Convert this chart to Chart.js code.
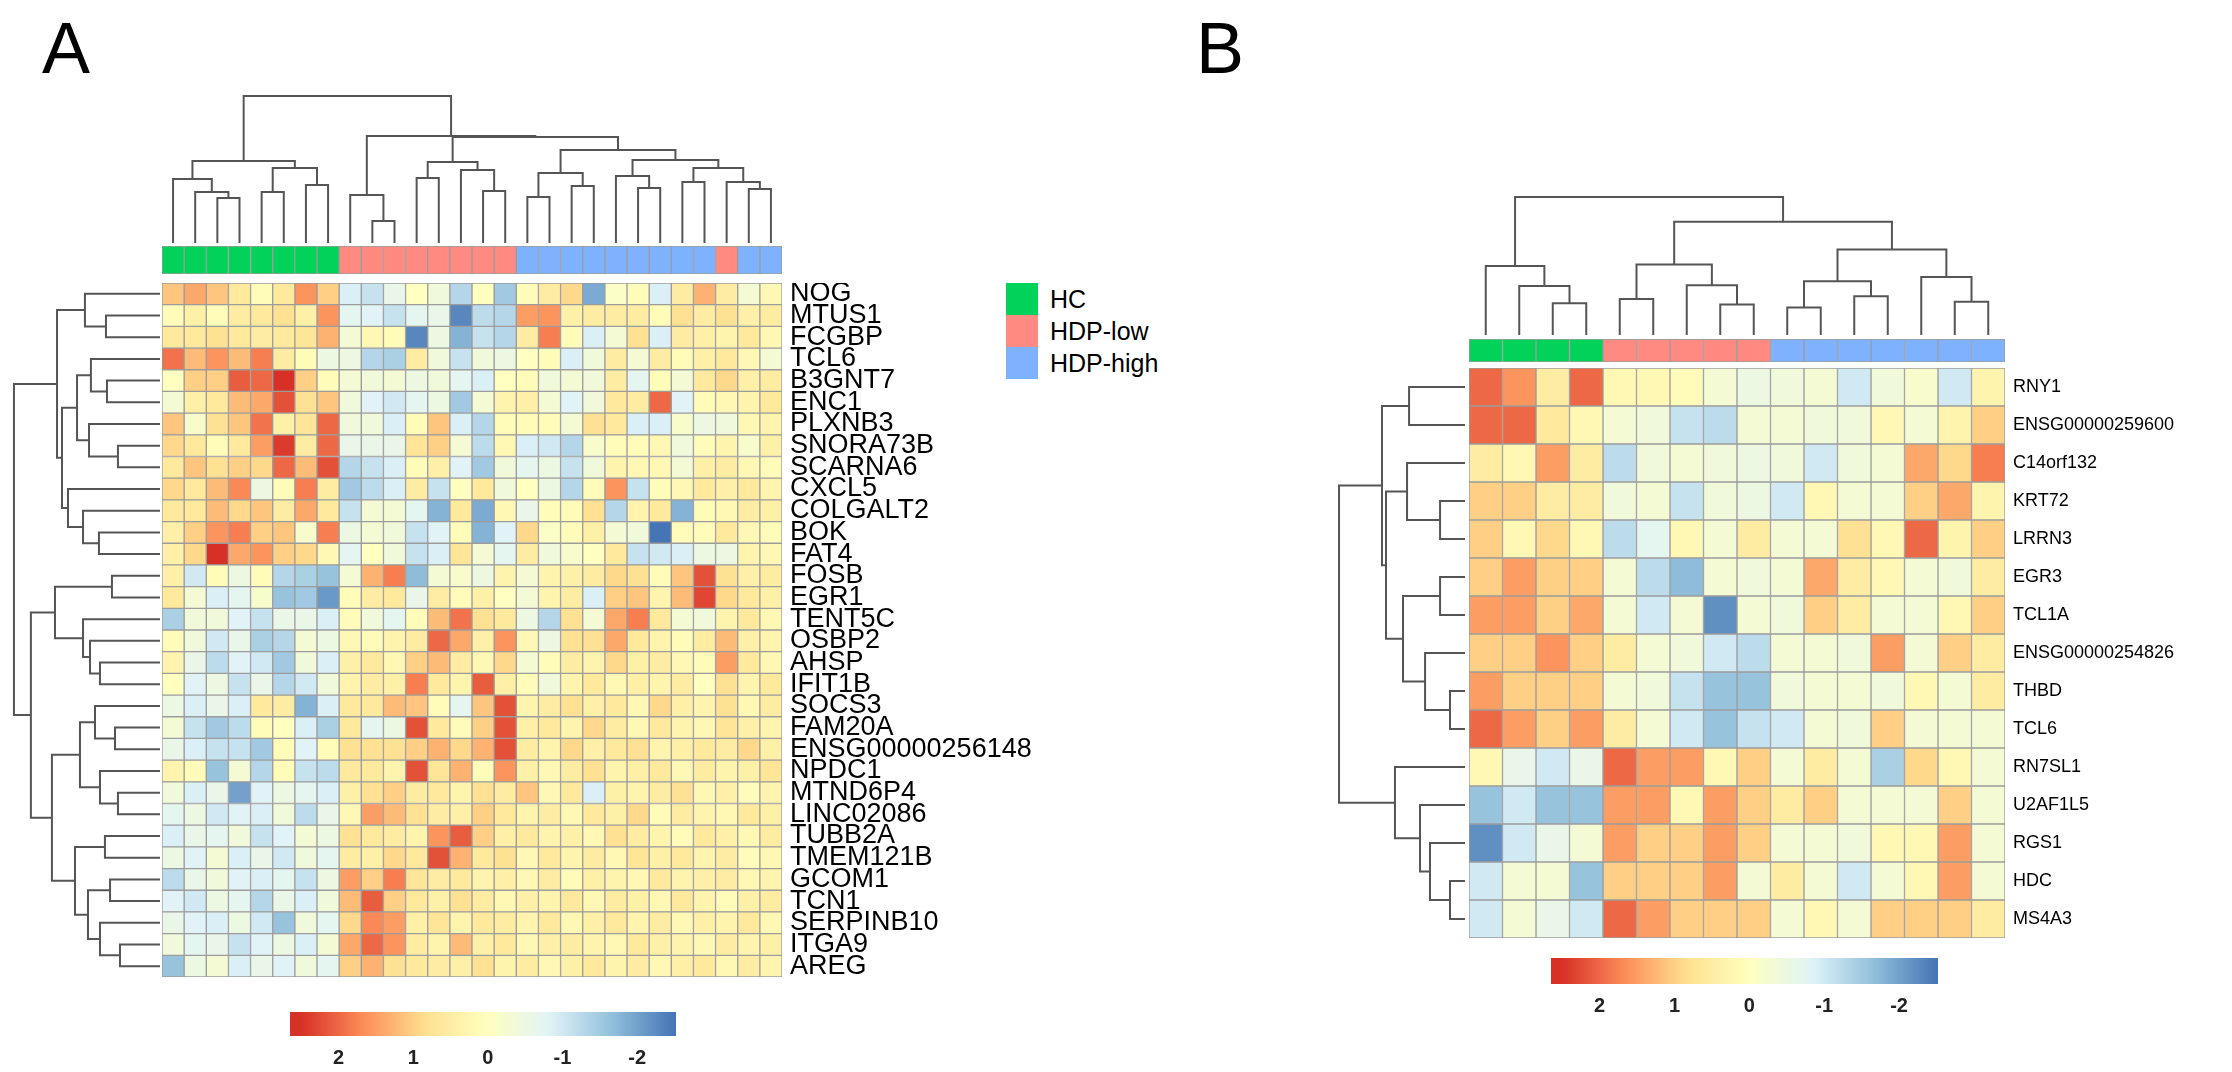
<!DOCTYPE html>
<html>
<head>
<meta charset="utf-8">
<script src="https://cdn.jsdelivr.net/npm/chart.js@4.4.0/dist/chart.umd.min.js"></script>
<style>
  body { margin:0; background:#fff; width:2232px; height:1072px; position:relative; overflow:hidden;
         font-family:"Liberation Sans", Arial, sans-serif; }
  canvas { position:absolute; display:block; }
  .letter { position:absolute; font-size:72px; line-height:72px; color:#000; }
  .lg { position:absolute; height:32px; line-height:32px; font-size:25px; color:#000; white-space:nowrap; }
  .lg span { position:absolute; left:-44px; top:0; width:32px; height:32px; }
</style>
</head>
<body>
<div class="letter" style="left:42px;top:12px">A</div>
<div class="letter" style="left:1196px;top:12px">B</div>
<div id="legend"></div>
<script>
// ---- data -------------------------------------------------------------
var groupNames = ['HC', 'HDP-low', 'HDP-high'];

var genesA = ['NOG','MTUS1','FCGBP','TCL6','B3GNT7','ENC1','PLXNB3','SNORA73B','SCARNA6','CXCL5',
  'COLGALT2','BOK','FAT4','FOSB','EGR1','TENT5C','OSBP2','AHSP','IFIT1B','SOCS3','FAM20A',
  'ENSG00000256148','NPDC1','MTND6P4','LINC02086','TUBB2A','TMEM121B','GCOM1','TCN1',
  'SERPINB10','ITGA9','AREG'];

var samplesA = ['HC','HC','HC','HC','HC','HC','HC','HC',
  'HDP-low','HDP-low','HDP-low','HDP-low','HDP-low','HDP-low','HDP-low','HDP-low',
  'HDP-high','HDP-high','HDP-high','HDP-high','HDP-high','HDP-high','HDP-high','HDP-high','HDP-high',
  'HDP-low','HDP-high','HDP-high'];

var valuesA = [
  [1.1,1.4,1.1,0.6,0.1,0.6,1.6,1.0,-0.9,-1.1,-0.6,0.0,-0.4,-1.3,0.0,-1.5,0.1,0.5,0.9,-1.9,-0.1,0.1,-0.9,0.5,1.3,0.5,-0.3,0.2],
  [0.1,0.4,0.1,0.5,0.6,0.8,0.4,1.6,-0.7,-0.8,-1.1,-0.7,-0.6,-2.3,-1.2,-1.3,1.5,1.6,0.4,0.5,0.5,0.5,0.1,0.8,0.5,0.8,0.4,0.5],
  [0.6,0.6,0.8,0.6,0.5,0.6,0.7,1.3,-0.3,0.2,0.1,-2.3,-0.5,-1.8,-1.1,-1.3,0.5,1.8,0.1,-0.9,-0.3,0.8,-0.9,0.5,0.4,0.3,0.6,0.2],
  [1.9,1.2,1.6,1.2,1.8,0.5,0.1,-0.5,-0.5,-1.3,-1.4,0.5,-0.4,-1.1,-0.4,-0.5,0.0,0.1,-0.9,-0.4,0.5,-0.3,0.5,0.1,0.4,0.6,0.2,-0.3],
  [0.0,1.0,1.0,2.1,2.0,2.5,1.0,0.1,-0.3,-0.4,-0.3,-0.5,-0.4,-0.7,-0.9,0.0,0.1,-0.4,-0.3,-0.4,0.5,-0.7,0.1,-0.3,0.6,0.9,0.4,0.5],
  [-0.3,0.4,0.6,1.2,1.4,2.2,0.8,1.1,-0.4,-0.8,-1.0,-0.7,-0.5,-1.5,-0.3,0.3,0.4,-0.3,-0.8,-0.4,0.6,0.5,2.0,-0.8,0.1,0.2,0.3,0.6],
  [1.1,-0.2,0.8,1.1,1.9,0.4,0.7,2.0,-0.4,-0.4,-0.9,0.1,1.1,-0.9,-1.3,0.1,0.1,0.1,-0.3,0.8,0.6,-0.9,-0.9,-0.2,-0.5,-0.4,0.2,0.3],
  [0.9,0.6,0.1,0.6,1.5,2.4,0.5,2.0,-0.6,-0.6,-0.6,0.7,1.0,-0.3,-1.2,0.2,-0.9,-1.0,-1.3,-0.2,0.1,0.1,0.2,-0.4,0.1,0.3,-0.2,0.4],
  [0.6,1.1,0.8,1.0,0.9,2.0,1.2,2.2,-1.3,-1.1,-0.9,0.1,0.4,-0.8,-1.5,-0.4,-0.7,-0.5,-1.1,-0.4,0.3,0.2,0.2,-0.3,0.4,0.5,0.2,0.1],
  [0.9,0.6,1.2,1.7,-0.5,0.1,1.8,0.5,-1.5,-1.2,-0.9,0.5,-1.1,0.0,0.6,-0.4,0.0,-0.5,-1.3,0.1,1.6,-1.1,0.1,0.2,0.6,0.4,0.6,0.3],
  [0.6,0.6,1.2,0.9,1.1,0.5,1.4,0.6,-1.1,-0.3,-0.3,-0.7,-1.8,0.6,-1.9,0.2,-0.6,0.1,0.1,0.8,-1.3,0.3,0.6,-1.8,0.1,0.2,0.5,0.4],
  [0.4,1.0,1.6,1.8,1.0,1.1,-0.2,1.8,-0.5,-0.3,-0.4,-1.1,-0.8,0.1,-1.8,-0.8,0.9,-0.1,0.1,0.4,-0.3,-0.4,-2.5,0.1,0.1,0.6,0.2,0.1],
  [0.4,0.9,2.5,1.4,1.6,1.0,0.9,0.2,-0.7,0.0,-0.4,-1.1,-0.9,0.7,-0.3,-0.7,0.5,-0.4,-0.2,0.0,0.6,-1.1,-1.0,-0.9,-0.5,-0.5,0.3,0.2],
  [0.4,-1.0,0.1,-0.5,0.1,-1.3,-1.4,-1.6,-0.3,1.3,1.8,-1.7,-0.3,-0.2,-0.5,0.3,-0.3,0.3,0.4,0.5,0.9,0.8,0.1,1.1,2.2,0.8,0.4,0.5],
  [0.6,-0.3,-0.9,-0.7,-0.2,-1.6,-1.5,-2.1,0.1,0.5,0.6,-0.6,0.5,0.1,0.4,0.0,-0.3,0.3,0.5,-0.9,1.0,1.1,0.3,1.2,2.3,0.9,0.6,0.4],
  [-1.4,-0.4,-0.4,-0.8,-1.1,-0.6,-0.6,-0.9,0.1,-0.4,-0.7,0.1,1.2,1.9,0.8,0.6,-0.5,-1.3,0.8,-0.3,1.4,1.8,0.6,-0.3,-0.4,0.3,0.6,0.2],
  [0.1,-0.4,-1.0,-0.6,-1.4,-1.3,-0.3,-0.5,0.2,0.1,0.3,0.5,2.0,1.4,0.4,1.6,0.2,-0.5,0.8,0.8,1.4,0.6,0.3,0.1,0.5,1.2,0.4,0.3],
  [0.3,-0.6,-1.2,-0.8,-1.0,-1.5,-0.4,-0.9,0.4,0.6,0.2,1.0,1.2,0.5,0.2,0.9,-0.3,0.1,0.5,0.3,0.9,0.4,0.5,0.2,0.1,1.5,0.6,0.2],
  [0.0,-0.8,-0.5,-1.1,-0.6,-1.3,-1.0,-0.4,0.3,0.5,0.4,1.8,0.6,0.3,2.1,0.4,0.1,-0.4,0.3,0.6,0.2,0.4,0.3,0.5,0.0,0.8,0.3,0.6],
  [-0.5,-0.9,-0.6,-0.9,0.6,0.5,-1.8,-0.9,0.6,0.6,1.2,1.1,0.1,-0.7,1.1,2.2,0.3,0.5,0.8,0.4,0.6,0.2,0.9,0.4,0.3,0.8,0.2,0.5],
  [-0.3,-1.1,-1.5,-1.2,0.1,0.0,-0.9,-1.4,0.6,-0.7,-0.5,2.2,0.6,0.1,1.0,2.2,0.4,0.6,0.3,0.9,0.5,0.2,0.6,0.3,0.2,0.7,0.4,0.3],
  [-0.6,-0.9,-1.1,-1.1,-1.5,0.1,-0.8,0.1,0.8,0.8,0.8,1.0,1.3,0.9,1.3,2.2,0.5,0.3,0.9,0.4,0.6,0.8,0.3,0.4,0.6,0.5,0.9,0.4],
  [0.3,0.1,-1.6,-0.3,-1.3,0.1,-1.1,-1.2,0.6,0.6,0.3,2.2,0.7,1.3,0.1,1.6,0.4,0.2,0.5,0.8,0.3,0.4,0.6,0.2,0.5,0.3,0.4,0.7],
  [-0.4,-0.9,-0.6,-2.0,-0.8,-0.5,-0.7,-0.9,0.4,0.8,1.0,0.5,0.6,0.3,0.8,0.5,1.1,0.2,0.6,-0.9,0.4,0.3,0.5,0.8,0.2,0.4,0.1,0.3],
  [-0.7,-0.5,-1.0,-0.8,-0.9,-0.4,-1.2,-0.6,0.2,1.5,1.2,0.8,0.5,0.4,1.0,0.6,0.3,0.5,0.2,0.6,0.4,0.9,0.1,0.5,0.3,0.2,0.6,0.4],
  [-0.9,-0.6,-0.7,-0.4,-1.1,-0.8,-0.3,-0.5,0.8,0.6,0.5,0.3,1.6,2.1,1.0,0.4,0.6,0.3,0.4,0.2,0.8,0.5,0.3,0.1,0.6,0.4,0.2,0.5],
  [-0.5,-0.8,-0.3,-0.9,-0.6,-1.0,-0.4,-0.7,0.5,0.4,0.9,0.6,2.2,1.3,0.6,0.8,0.2,0.6,0.3,0.5,0.2,0.7,0.4,0.6,0.3,0.5,0.1,0.2],
  [-1.2,-0.6,-0.4,-0.8,-0.9,-0.7,-1.1,-0.5,1.5,1.0,1.8,0.7,0.5,0.6,0.3,0.4,0.2,0.5,0.1,0.4,0.3,0.2,0.6,0.3,0.4,0.5,0.2,0.3],
  [-0.8,-1.0,-0.5,-0.7,-1.3,-0.6,-0.9,-0.4,1.2,2.1,1.0,0.6,0.4,0.8,0.5,0.2,0.4,0.3,0.6,0.2,0.5,0.4,0.2,0.6,0.3,0.1,0.4,0.5],
  [-0.6,-0.8,-0.9,-0.5,-1.0,-1.6,-0.4,-0.7,0.9,1.7,1.5,0.4,0.7,0.3,0.6,0.5,0.3,0.6,0.2,0.4,0.6,0.3,0.5,0.2,0.4,0.3,0.6,0.2],
  [-0.4,-0.7,-0.6,-1.1,-0.8,-0.5,-0.9,-0.3,1.4,2.0,1.6,0.5,0.3,1.2,0.4,0.6,0.2,0.4,0.5,0.3,0.2,0.6,0.4,0.3,0.2,0.5,0.3,0.4],
  [-1.6,-0.5,-0.3,-0.9,-0.6,-0.8,-0.4,-0.7,1.0,1.3,0.8,0.6,0.5,0.4,0.8,0.3,0.5,0.2,0.4,0.6,0.3,0.5,0.2,0.4,0.6,0.2,0.5,0.3]
];

// trees: [height, left, right], leaves are column / row indexes
var colTreeA = [10.0,
  [5.58, [4.35, 0, [3.47, 1, [3.06, 2, 3]]], [5.10, [3.47, 4, 5], [3.95, 6, 7]]],
  [7.28, [3.27, 8, [1.50, 9, 10]],
    [7.21, [5.51, [4.42, 11, 12], [4.97, 13, [3.54, 14, 15]]],
      [6.33, [4.76, [3.13, 16, 17], [3.88, 18, 19]],
        [5.65, [4.56, 20, [3.74, 21, 22]], [5.10, [4.15, 23, 24], [4.15, 25, [3.67, 26, 27]]]]]]]];

var rowTreeA = [10.0,
  [7.05, [5.14, 0, [3.70, 1, 2]],
    [6.71, [5.68, [4.73, 3, [3.63, 4, 5]], [4.86, 6, [2.88, 7, 8]]],
      [6.30, 9, [5.27, 10, [4.18, 11, 12]]]]],
  [8.84, [7.19, [3.29, 13, 14], [5.27, 15, [4.79, 16, [4.11, 17, 18]]]],
    [7.40, [5.48, [4.45, 19, [3.08, 20, 21]], [4.11, 22, [2.88, 23, 24]]],
      [5.82, [3.77, 25, 26], [4.93, [3.42, 27, 28], [4.11, 29, [2.74, 30, 31]]]]]]];

var genesB = ['RNY1','ENSG00000259600','C14orf132','KRT72','LRRN3','EGR3','TCL1A','ENSG00000254826',
  'THBD','TCL6','RN7SL1','U2AF1L5','RGS1','HDC','MS4A3'];

var samplesB = ['HC','HC','HC','HC','HDP-low','HDP-low','HDP-low','HDP-low','HDP-low',
  'HDP-high','HDP-high','HDP-high','HDP-high','HDP-high','HDP-high','HDP-high'];

var valuesB = [
  [2.0,1.6,0.5,2.0,0.2,0.2,0.1,-0.3,-0.5,-0.4,-0.3,-1.0,-0.4,-0.2,-1.0,0.3],
  [2.0,2.0,0.6,0.2,-0.3,-0.4,-1.1,-1.2,-0.3,-0.3,-0.4,-0.4,0.2,-0.3,0.3,1.0],
  [0.5,0.2,1.5,0.5,-1.2,-0.4,-0.3,-0.4,-0.5,-0.4,-1.0,-0.4,-0.3,1.4,0.9,1.8],
  [1.0,1.0,0.5,0.5,-0.4,-0.3,-1.1,-0.4,-0.5,-1.0,0.2,-0.3,-0.3,1.0,1.4,0.3],
  [1.0,0.2,0.9,0.2,-1.2,-0.7,0.2,-0.3,0.5,-0.3,-0.3,0.8,0.2,2.0,0.3,1.0],
  [1.0,1.5,1.0,1.0,-0.3,-1.2,-1.7,-0.3,-0.4,-0.3,1.4,0.5,0.2,-0.3,-0.4,0.5],
  [1.5,1.5,1.0,1.4,-0.3,-1.0,-0.3,-2.2,-0.3,-0.4,1.0,0.5,-0.3,-0.3,0.2,1.0],
  [1.0,1.0,1.6,1.0,0.5,-0.3,-0.4,-1.0,-1.2,-0.3,-0.3,-0.4,1.5,-0.3,1.0,0.5],
  [1.5,1.0,1.0,1.0,-0.3,-0.4,-1.1,-1.6,-1.6,-0.4,-0.3,-0.3,-0.4,0.2,-0.3,0.5],
  [2.0,1.5,1.0,1.5,0.5,-0.3,-1.0,-1.6,-1.1,-1.0,-0.3,-0.4,1.0,-0.3,-0.3,-0.3],
  [0.2,-0.6,-1.0,-0.6,2.0,1.5,1.5,0.2,1.0,-0.3,0.5,-0.3,-1.4,0.9,0.2,-0.3],
  [-1.6,-1.0,-1.6,-1.6,1.5,1.5,0.2,1.5,1.0,0.5,1.0,-0.3,-0.3,-0.3,1.0,-0.3],
  [-2.2,-1.0,-0.6,-0.3,1.5,1.0,1.0,1.5,1.0,-0.3,-0.3,-0.4,0.2,0.2,1.5,-0.3],
  [-1.0,-0.3,-0.3,-1.6,1.0,1.0,1.0,1.5,-0.3,0.5,-0.3,-1.0,-0.3,0.2,1.5,-0.3],
  [-1.0,-0.3,-0.6,-1.0,2.0,1.5,1.0,1.0,1.0,-0.3,0.2,-0.3,1.0,1.0,1.0,0.5]
];

var colTreeB = [10.0,
  [5.0, 0, [3.55, 1, [2.3, 2, 3]]],
  [8.2, [5.1, [2.6, 4, 5], [3.6, 6, [2.2, 7, 8]]],
    [6.2, [3.9, [2.0, 9, 10], [2.8, 11, 12]], [4.2, 13, [2.4, 14, 15]]]]];

var rowTreeB = [10.0,
  [6.59, [4.44, 0, 1],
    [6.27, [4.60, 2, [1.98, 3, 4]], [4.92, [1.98, 5, 6], [3.17, 7, [1.19, 8, 9]]]]],
  [5.56, 10, [3.57, 11, [2.78, 12, [1.19, 13, 14]]]]];

var legendTicks = [2, 1, 0, -1, -2];
var legendRange = [-2.52, 2.65];
var colorLimit = 2.5;

// ---- style ------------------------------------------------------------
var groupColors = { 'HC': '#00D25A', 'HDP-low': '#FF8A82', 'HDP-high': '#7EB2FF' };
var ramp = ['#4575B4','#91BFDB','#E0F3F8','#FFFFBF','#FEE090','#FC8D59','#D73027'];
var cellBorder = '#9c9c9c';
var treeColor = '#555555';

Chart.defaults.font.family = "'Liberation Sans', Arial, sans-serif";
Chart.defaults.color = '#000';

function hex(c) { return [1, 3, 5].map(function(i) { return parseInt(c.substr(i, 2), 16); }); }

function heatColor(v) {
  var t = Math.max(0, Math.min(1, (v + colorLimit) / (2 * colorLimit))) * (ramp.length - 1);
  var i = Math.min(ramp.length - 2, Math.floor(t));
  var f = t - i;
  var a = hex(ramp[i]), b = hex(ramp[i + 1]);
  return 'rgb(' + a.map(function(x, k) { return Math.round(x + (b[k] - x) * f); }).join(',') + ')';
}

function canvasAt(left, top, w, h) {
  var c = document.createElement('canvas');
  c.width = w; c.height = h;
  c.style.left = left + 'px'; c.style.top = top + 'px';
  c.style.width = w + 'px'; c.style.height = h + 'px';
  document.body.appendChild(c);
  return c;
}

function baseOptions() {
  return { responsive: false, animation: false, events: [], devicePixelRatio: 1,
    layout: { padding: 0 }, plugins: { legend: { display: false }, tooltip: { enabled: false } } };
}

// walk a tree and collect U-shaped links [pos1, h1, pos2, h2, h]
function walk(node, links) {
  if (typeof node === 'number') return { pos: node + 0.5, h: 0 };
  var l = walk(node[1], links), r = walk(node[2], links);
  links.push([l.pos, l.h, r.pos, r.h, node[0]]);
  return { pos: (l.pos + r.pos) / 2, h: node[0] };
}

function dendrogram(canvas, tree, nLeaves, hMax, onTop) {
  var links = [];
  walk(tree, links);
  var datasets = links.map(function(k) {
    var pts = [[k[0], k[1]], [k[0], k[4]], [k[2], k[4]], [k[2], k[3]]];
    return {
      data: pts.map(function(p) { return onTop ? { x: p[0], y: p[1] } : { x: p[1], y: p[0] }; }),
      showLine: true, borderColor: treeColor, borderWidth: 2, pointRadius: 0, clip: false,
      borderJoinStyle: 'miter'
    };
  });
  var pos = { type: 'linear', min: 0, max: nLeaves, display: false };
  var hgt = { type: 'linear', min: 0, max: hMax, display: false };
  var opts = baseOptions();
  if (onTop) { opts.scales = { x: pos, y: hgt }; }
  else {
    hgt.reverse = true; pos.reverse = true;
    opts.scales = { x: hgt, y: pos };
  }
  new Chart(canvas, { type: 'scatter', data: { datasets: datasets }, options: opts });
}

function heatmap(canvas, genes, values, fontSize, labelWidth) {
  var nCols = values[0].length;
  var datasets = [];
  for (var j = 0; j < nCols; j++) {
    datasets.push({
      data: genes.map(function() { return [j, j + 1]; }),
      backgroundColor: values.map(function(row) { return heatColor(row[j]); }),
      borderColor: cellBorder, borderWidth: 1, borderSkipped: false,
      grouped: false, barPercentage: 1, categoryPercentage: 1
    });
  }
  var opts = baseOptions();
  opts.indexAxis = 'y';
  opts.scales = {
    x: { type: 'linear', min: 0, max: nCols, display: false },
    y: { position: 'right', grid: { display: false, drawTicks: false }, border: { display: false },
      ticks: { autoSkip: false, padding: 8, font: { size: fontSize }, color: '#000' },
      afterFit: function(s) { s.width = labelWidth; s.paddingTop = 0; s.paddingBottom = 0; } }
  };
  new Chart(canvas, { type: 'bar', data: { labels: genes, datasets: datasets }, options: opts });
}

function annotation(canvas, samples) {
  var datasets = samples.map(function(g, j) {
    return { data: [[j, j + 1]], backgroundColor: groupColors[g], borderColor: cellBorder,
      borderWidth: 1, borderSkipped: false, grouped: false, barPercentage: 1, categoryPercentage: 1 };
  });
  var opts = baseOptions();
  opts.indexAxis = 'y';
  opts.scales = { x: { type: 'linear', min: 0, max: samples.length, display: false }, y: { display: false } };
  new Chart(canvas, { type: 'bar', data: { labels: [''], datasets: datasets }, options: opts });
}

function colorbar(canvas, axisHeight) {
  var opts = baseOptions();
  opts.indexAxis = 'y';
  opts.scales = {
    y: { display: false },
    x: { type: 'linear', reverse: true, min: legendRange[0], max: legendRange[1],
      grid: { display: false, drawTicks: false }, border: { display: false },
      ticks: { padding: 10, font: { size: 20, weight: 'bold' }, color: '#222' },
      afterBuildTicks: function(s) { s.ticks = legendTicks.map(function(v) { return { value: v }; }); },
      afterFit: function(s) { s.height = axisHeight; s.paddingLeft = 0; s.paddingRight = 0; } }
  };
  new Chart(canvas, {
    type: 'bar',
    data: { labels: [''], datasets: [{
      data: [[legendRange[1], legendRange[0]]], borderWidth: 0, barPercentage: 1, categoryPercentage: 1,
      backgroundColor: function(ctx) {
        var chart = ctx.chart, area = chart.chartArea;
        if (!area) return '#fff';
        var xs = chart.scales.x;
        var g = chart.ctx.createLinearGradient(area.left, 0, area.right, 0);
        for (var i = 0; i <= 50; i++) {
          var v = xs.min + (xs.max - xs.min) * i / 50;
          var o = (xs.getPixelForValue(v) - area.left) / (area.right - area.left);
          g.addColorStop(Math.max(0, Math.min(1, o)), heatColor(v));
        }
        return g;
      } }] },
    options: opts
  });
}

// ---- panel A ----
dendrogram(canvasAt(162, 90, 620, 153), colTreeA, samplesA.length, 10.41, true);
annotation(canvasAt(162, 246, 620, 28), samplesA);
heatmap(canvasAt(162, 283, 890, 694), genesA, valuesA, 27, 270);
dendrogram(canvasAt(10, 283, 150, 694), rowTreeA, genesA.length, 10.27, false);
colorbar(canvasAt(290, 1012, 386, 58), 34);

// ---- panel B ----
dendrogram(canvasAt(1469, 190, 536, 145), colTreeB, samplesB.length, 10.5, true);
annotation(canvasAt(1469, 339, 536, 23), samplesB);
heatmap(canvasAt(1469, 368, 756, 570), genesB, valuesB, 18, 220);
dendrogram(canvasAt(1335, 368, 130, 570), rowTreeB, genesB.length, 10.32, false);
colorbar(canvasAt(1551, 958, 387, 60), 34);

// ---- legend ----
var lg = document.getElementById('legend');
groupNames.forEach(function(g, i) {
  var d = document.createElement('div');
  d.className = 'lg';
  d.style.left = '1050px';
  d.style.top = (283 + i * 32) + 'px';
  d.innerHTML = '<span style="background:' + groupColors[g] + '"></span>' + g;
  lg.appendChild(d);
});
</script>
</body>
</html>
